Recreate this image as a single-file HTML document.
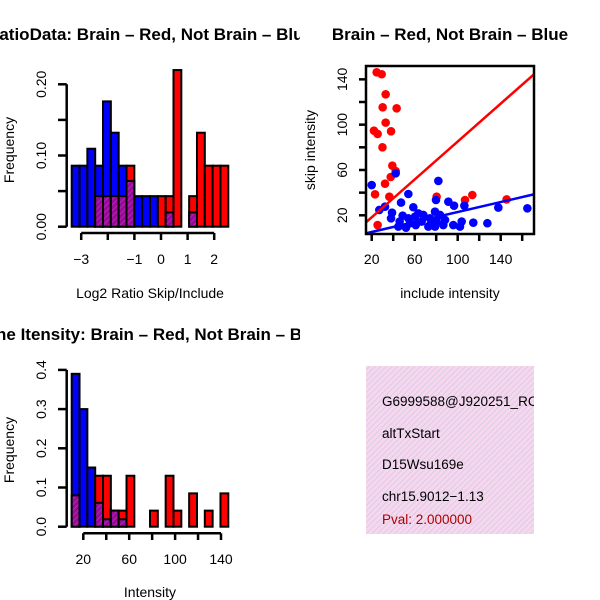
<!DOCTYPE html>
<html><head><meta charset="utf-8"><style>
html,body{margin:0;padding:0;background:#fff;}
svg{display:block;font-family:"Liberation Sans",sans-serif;}
</style></head><body>
<svg id="chart" width="600" height="600" viewBox="0 0 600 600" xmlns="http://www.w3.org/2000/svg">
<defs>
<pattern id="hatch" width="4" height="4" patternUnits="userSpaceOnUse" patternTransform="rotate(45)">
<rect width="4" height="4" fill="#f6d6f2"/><line x1="0" y1="0" x2="0" y2="4" stroke="#cccccc" stroke-width="1.3"/></pattern>
<pattern id="phatch" width="4" height="4" patternUnits="userSpaceOnUse" patternTransform="rotate(45)">
<rect width="4" height="4" fill="#9a0a9a"/><line x1="0" y1="0" x2="0" y2="4" stroke="#c040c0" stroke-width="1"/></pattern>
<clipPath id="scClip"><rect x="366" y="66" width="168" height="168"/></clipPath>
<clipPath id="infoClip"><rect x="366" y="366" width="168" height="168"/></clipPath>
<clipPath id="leftClip"><rect x="0" y="0" width="300" height="600"/></clipPath>
</defs>
<g clip-path="url(#leftClip)">
<g id="h1"></g>
<g id="h2"></g>
</g>
<g id="sc"></g>
<g>
<rect x="366" y="366" width="168" height="168" fill="url(#hatch)"/>
<g clip-path="url(#infoClip)" font-size="13.5">
<text x="382" y="406">G6999588@J920251_RC</text>
<text x="382" y="438">altTxStart</text>
<text x="382" y="469">D15Wsu169e</text>
<text x="382" y="501">chr15.9012−1.13</text>
<text x="382" y="524" fill="#b00000">Pval: 2.000000</text>
</g></g>
</svg>
<script>
// ---- Ratio histogram data ----
const ratioBlue = [0.0857,0.0857,0.1095,0.0857,0.176,0.132,0.0857,0.0643,0.0429,0.0429,0.0429,0,0.02,0,0,0.02,0,0,0,0];
const ratioRed  = [0,0,0,0.0429,0.0429,0.0429,0.0429,0.0857,0,0,0,0.0429,0.0429,0.22,0,0.0429,0.132,0.0857,0.0857,0.0857];
const ratioXTicks = [-3,-1,0,1,2];
const ratioYTicks = [0,0.1,0.2];
const ratioYMinor = [0.05,0.15];
// ---- Scatter data ----
const redX = [24.6,29.3,33,30.2,43.2,33,22.1,25.5,38,30,39.2,42.3,37.7,32.4,23.1,36.4,80.4,106.8,113.6,145.5,25.5];
const redY = [146.2,144.5,126.8,115.3,114.4,101.8,94.7,91.8,94.1,80,63.8,59.1,53.8,47.9,38.5,36.4,36.4,33.5,37.9,34,11.4];
const blueX = [20,42.3,82,54.1,47.3,32.4,27.1,38.9,38,79.8,91.3,96.6,106.2,137.8,164.8,58.7,48.8,54.1,60.3,63.4,68,74.2,78.9,83.5,88.2,74.2,78.9,86.6,95.9,103.7,102.1,114.5,127.6,44.8,51.9,61,66.5,72.7,80.4,55.6,46];
const blueY = [46.7,57,50.3,38.8,31.2,27.6,24.7,22.3,17.3,33.5,32,28.5,28.5,26.8,26.2,27.1,19.7,17.3,18.8,21.7,20.3,17.3,23.2,20.3,15.9,11.4,10,11.4,11.4,14.5,10,13.5,13,10,9.1,11.4,14.5,10,14.5,13,14.5];
const redFit = [1.5,0.836];
const blueFit = [0.9,0.22];
const scXTicks = [20,40,60,80,100,120,140,160];
const scXLabels = [20,60,100,140];
const scYTicks = [20,40,60,80,100,120,140];
const scYLabels = [20,60,100,140];
// ---- Intensity histogram data ----
const intBlue = [0.39,0.30,0.151,0.061,0.019,0.041,0.019,0,0,0,0,0,0,0,0,0,0,0,0,0];
const intRed  = [0.08,0,0,0.13,0.13,0.041,0.041,0.13,0,0,0.041,0,0.13,0.041,0,0.085,0,0.041,0,0.085];
const intXTicks = [20,40,60,80,100,120,140];
const intXLabels = [20,60,100,140];
const intYTicks = [0,0.1,0.2,0.3,0.4];

const NS="http://www.w3.org/2000/svg";
const FS=14, TFS=17;
function mk(parent,tag,attrs,text){const e=document.createElementNS(NS,tag);for(const k in attrs)e.setAttribute(k,attrs[k]);if(text!==undefined)e.textContent=text;parent.appendChild(e);return e;}

function histogram(g,blue,red,left,binW,yS,y0,prefix){
  blue.forEach((b,i)=>{
    const r=red[i];const x=left+i*binW;
    const hi=Math.max(b,r), lo=Math.min(b,r);
    if(hi>0){
      const bar=mk(g,'rect',{x:x,y:yS(hi),width:binW,height:y0-yS(hi),fill:b>=r?'#0000ff':'#ff0000',stroke:'#000','stroke-width':2});
      
      
    }
    if(lo>0){
      const ov=mk(g,'rect',{x:x,y:yS(lo),width:binW,height:y0-yS(lo),fill:'url(#phatch)',stroke:'#000','stroke-width':2});
      
      
    }
  });
}

// Ratio histogram
(function(){
  const g=document.getElementById('h1');
  const y0=226.7, yS=v=>y0-v*712, xS=v=>161+v*26.6;
  histogram(g,ratioBlue,ratioRed,71.7,7.83,yS,y0,'ratio');
  mk(g,'line',{x1:xS(-3),x2:xS(2),y1:233,y2:233,stroke:'#000','stroke-width':2.5});
  [-3,-2,-1,0,1,2].forEach(v=>mk(g,'line',{x1:xS(v),x2:xS(v),y1:233,y2:240,stroke:'#000','stroke-width':2.5}));
  ratioXTicks.forEach(v=>{const t=mk(g,'text',{x:xS(v),y:264,'text-anchor':'middle','font-size':FS},v<0?'−'+(-v):String(v));
    });
  mk(g,'line',{x1:66.7,x2:66.7,y1:yS(0),y2:yS(0.2),stroke:'#000','stroke-width':2.5});
  ratioYTicks.concat(ratioYMinor).forEach(v=>mk(g,'line',{x1:58,x2:66.7,y1:yS(v),y2:yS(v),stroke:'#000','stroke-width':2.5}));
  ratioYTicks.forEach(v=>{const t=mk(g,'text',{x:46,y:yS(v),'text-anchor':'middle','font-size':FS,transform:`rotate(-90 46 ${yS(v)})`},v.toFixed(2));
    });
  const yl=mk(g,'text',{x:14,y:150,'text-anchor':'middle','font-size':FS,transform:'rotate(-90 14 150)'},'Frequency');
  
  const xl=mk(g,'text',{x:150,y:298,'text-anchor':'middle','font-size':FS},'Log2 Ratio Skip/Include');
  
  const ti=mk(g,'text',{x:150,y:40,'text-anchor':'middle','font-size':TFS,'font-weight':'bold'},'RatioData: Brain – Red, Not Brain – Blue');
  
})();

// Scatter
(function(){
  const g=document.getElementById('sc');
  const xS=v=>371.7+(v-20)*1.075, yS=v=>215.3-(v-20)*1.133;
  const c=mk(g,'g',{'clip-path':'url(#scClip)'});
  redX.forEach((x,i)=>{const p=mk(c,'circle',{cx:xS(x),cy:yS(redY[i]),r:4.3,fill:'#ff0000'});
    });
  blueX.forEach((x,i)=>{const p=mk(c,'circle',{cx:xS(x),cy:yS(blueY[i]),r:4.3,fill:'#0000ff'});
    });
  const l1=mk(c,'line',{x1:xS(10),y1:yS(redFit[0]+redFit[1]*10),x2:xS(180),y2:yS(redFit[0]+redFit[1]*180),stroke:'#ff0000','stroke-width':2.5});
  
  const l2=mk(c,'line',{x1:xS(10),y1:yS(blueFit[0]+blueFit[1]*10),x2:xS(180),y2:yS(blueFit[0]+blueFit[1]*180),stroke:'#0000ff','stroke-width':2.5});
  
  mk(g,'rect',{x:366,y:66,width:168,height:168,fill:'none',stroke:'#000','stroke-width':2.5});
  scXTicks.forEach(v=>mk(g,'line',{x1:xS(v),x2:xS(v),y1:234,y2:241,stroke:'#000','stroke-width':2.5}));
  scXLabels.forEach(v=>{const t=mk(g,'text',{x:xS(v),y:264,'text-anchor':'middle','font-size':FS},String(v));
    });
  scYTicks.forEach(v=>mk(g,'line',{x1:359,x2:366,y1:yS(v),y2:yS(v),stroke:'#000','stroke-width':2.5}));
  scYLabels.forEach(v=>{const t=mk(g,'text',{x:347,y:yS(v),'text-anchor':'middle','font-size':FS,transform:`rotate(-90 347 ${yS(v)})`},String(v));
    });
  const yl=mk(g,'text',{x:315,y:150,'text-anchor':'middle','font-size':FS,transform:'rotate(-90 315 150)'},'skip intensity');
  
  const xl=mk(g,'text',{x:450,y:298,'text-anchor':'middle','font-size':FS},'include intensity');
  
  const ti=mk(g,'text',{x:450,y:40,'text-anchor':'middle','font-size':TFS,'font-weight':'bold'},'Brain – Red, Not Brain – Blue');
  
})();

// Intensity histogram
(function(){
  const g=document.getElementById('h2');
  const y0=526.7, yS=v=>y0-v*392, xS=v=>83.3+(v-20)*1.1475;
  histogram(g,intBlue,intRed,71.7,7.83,yS,y0,'intensity');
  mk(g,'line',{x1:xS(20),x2:xS(140),y1:533.3,y2:533.3,stroke:'#000','stroke-width':2.5});
  intXTicks.forEach(v=>mk(g,'line',{x1:xS(v),x2:xS(v),y1:533.3,y2:540,stroke:'#000','stroke-width':2.5}));
  intXLabels.forEach(v=>{const t=mk(g,'text',{x:xS(v),y:564,'text-anchor':'middle','font-size':FS},String(v));
    });
  mk(g,'line',{x1:66.7,x2:66.7,y1:yS(0),y2:yS(0.4),stroke:'#000','stroke-width':2.5});
  intYTicks.forEach(v=>mk(g,'line',{x1:58,x2:66.7,y1:yS(v),y2:yS(v),stroke:'#000','stroke-width':2.5}));
  intYTicks.forEach(v=>{const t=mk(g,'text',{x:46,y:yS(v),'text-anchor':'middle','font-size':FS,transform:`rotate(-90 46 ${yS(v)})`},v.toFixed(1));
    });
  const yl=mk(g,'text',{x:14,y:450,'text-anchor':'middle','font-size':FS,transform:'rotate(-90 14 450)'},'Frequency');
  
  const xl=mk(g,'text',{x:150,y:597,'text-anchor':'middle','font-size':FS},'Intensity');
  
  const ti=mk(g,'text',{x:150,y:340,'text-anchor':'middle','font-size':TFS,'font-weight':'bold'},'Gene Itensity: Brain – Red, Not Brain – Blue');
  
})();
</script>
</body></html>
